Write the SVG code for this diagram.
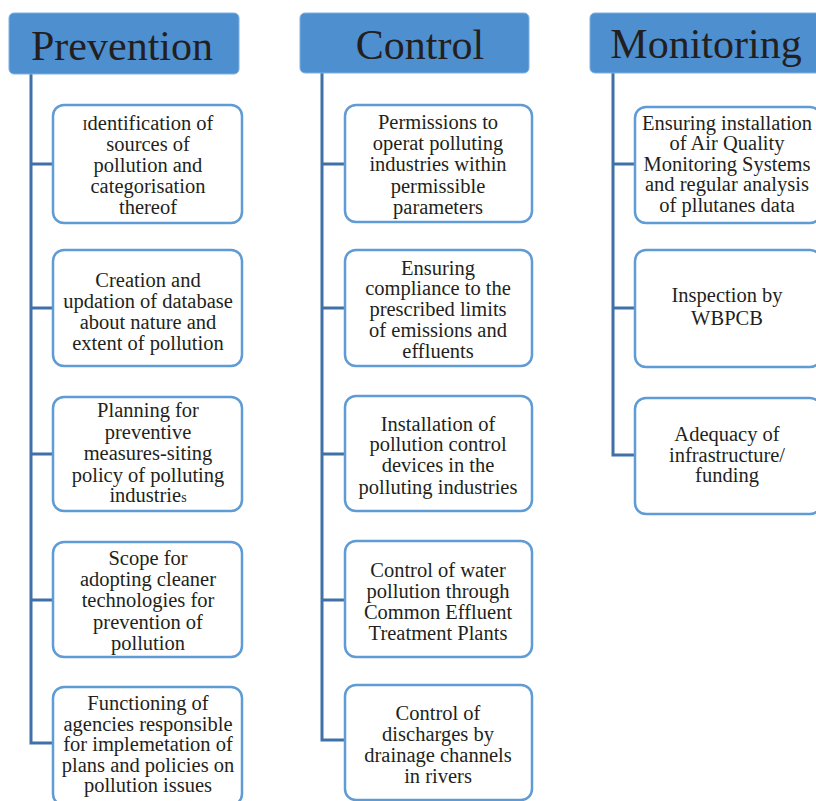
<svg xmlns="http://www.w3.org/2000/svg" width="816" height="801" viewBox="0 0 816 801">
<style>
.hdr{fill:#4e8fd0;stroke:#7db0e0;stroke-width:1}
.htx{font-family:'Liberation Serif','DejaVu Serif',serif;font-size:42px;fill:#231f20;text-anchor:middle}
.box{fill:#ffffff;stroke:#5f9bd4;stroke-width:2.5}
.tx{font-family:'Liberation Serif','DejaVu Serif',serif;font-size:20.5px;fill:#231f20;text-anchor:middle}
.ln{fill:none;stroke:#3f71a8;stroke-width:3}
</style>
<rect width="816" height="801" fill="#ffffff"/>
<g id="connectors">
<path class="ln" d="M31,74 V743 H53 M31,164 H53 M31,308 H53 M31,454 H53 M31,600 H53"/>
<path class="ln" d="M322,73 V740 H345 M322,164 H345 M322,308 H345 M322,454 H345 M322,600 H345"/>
<path class="ln" d="M613,73 V455 H635 M613,164 H635 M613,308 H635"/>
</g>
<g id="prevention">
<rect class="hdr" x="9" y="13" width="230" height="61" rx="5"/>
<text class="htx" x="122" y="60">Prevention</text>
</g>
<g id="control">
<rect class="hdr" x="300" y="13" width="229" height="60" rx="5"/>
<text class="htx" x="420" y="59">Control</text>
</g>
<g id="monitoring">
<rect class="hdr" x="590" y="13" width="234" height="60" rx="5"/>
<text class="htx" x="706" y="58">Monitoring</text>
</g>
<g id="p1">
<rect class="box" x="53" y="105" width="189" height="118" rx="11"/>
<text class="tx"><tspan x="148" y="130"><tspan font-size="15">I</tspan>dentification of</tspan><tspan x="148" y="151">sources of</tspan><tspan x="148" y="172">pollution and</tspan><tspan x="148" y="193">categorisation</tspan><tspan x="148" y="214">thereof</tspan></text>
</g>
<g id="p2">
<rect class="box" x="53" y="250" width="189" height="116" rx="11"/>
<text class="tx"><tspan x="148" y="287">Creation and</tspan><tspan x="148" y="308">updation of database</tspan><tspan x="148" y="329">about nature and</tspan><tspan x="148" y="350">extent of pollution</tspan></text>
</g>
<g id="p3">
<rect class="box" x="53" y="397" width="189" height="114" rx="11"/>
<text class="tx"><tspan x="148" y="417">Planning for</tspan><tspan x="148" y="439">preventive</tspan><tspan x="148" y="460">measures-siting</tspan><tspan x="148" y="482">policy of polluting</tspan><tspan x="148" y="502">industrie<tspan font-size="14">s</tspan></tspan></text>
</g>
<g id="p4">
<rect class="box" x="53" y="542" width="189" height="115" rx="11"/>
<text class="tx"><tspan x="148" y="565">Scope for</tspan><tspan x="148" y="586">adopting cleaner</tspan><tspan x="148" y="607">technologies for</tspan><tspan x="148" y="629">prevention of</tspan><tspan x="148" y="650">pollution</tspan></text>
</g>
<g id="p5">
<rect class="box" x="53" y="687" width="189" height="118" rx="11"/>
<text class="tx"><tspan x="148" y="710">Functioning of</tspan><tspan x="148" y="731">agencies responsible</tspan><tspan x="148" y="751">for implemetation of</tspan><tspan x="148" y="772">plans and policies on</tspan><tspan x="148" y="792">pollution issues</tspan></text>
</g>
<g id="c1">
<rect class="box" x="345" y="105" width="187" height="117" rx="11"/>
<text class="tx"><tspan x="438" y="129">Permissions to</tspan><tspan x="438" y="150">operat polluting</tspan><tspan x="438" y="171">industries within</tspan><tspan x="438" y="193">permissible</tspan><tspan x="438" y="214">parameters</tspan></text>
</g>
<g id="c2">
<rect class="box" x="345" y="250" width="187" height="116" rx="11"/>
<text class="tx"><tspan x="438" y="275">Ensuring</tspan><tspan x="438" y="295">compliance to the</tspan><tspan x="438" y="316">prescribed limits</tspan><tspan x="438" y="337">of emissions and</tspan><tspan x="438" y="358">effluents</tspan></text>
</g>
<g id="c3">
<rect class="box" x="345" y="396" width="187" height="115" rx="11"/>
<text class="tx"><tspan x="438" y="431">Installation of</tspan><tspan x="438" y="451">pollution control</tspan><tspan x="438" y="472">devices in the</tspan><tspan x="438" y="494">polluting industries</tspan></text>
</g>
<g id="c4">
<rect class="box" x="345" y="541" width="187" height="116" rx="11"/>
<text class="tx"><tspan x="438" y="577">Control of water</tspan><tspan x="438" y="598">pollution through</tspan><tspan x="438" y="619">Common Effluent</tspan><tspan x="438" y="640">Treatment Plants</tspan></text>
</g>
<g id="c5">
<rect class="box" x="345" y="685" width="187" height="115" rx="11"/>
<text class="tx"><tspan x="438" y="720">Control of</tspan><tspan x="438" y="741">discharges by</tspan><tspan x="438" y="762">drainage channels</tspan><tspan x="438" y="783">in rivers</tspan></text>
</g>
<g id="m1">
<rect class="box" x="635" y="107" width="186" height="116" rx="11"/>
<text class="tx"><tspan x="727" y="130">Ensuring installation</tspan><tspan x="727" y="150">of Air Quality</tspan><tspan x="727" y="171">Monitoring Systems</tspan><tspan x="727" y="191">and regular analysis</tspan><tspan x="727" y="212">of pllutanes data</tspan></text>
</g>
<g id="m2">
<rect class="box" x="635" y="250" width="186" height="117" rx="11"/>
<text class="tx"><tspan x="727" y="302">Inspection by</tspan><tspan x="727" y="325">WBPCB</tspan></text>
</g>
<g id="m3">
<rect class="box" x="635" y="398" width="186" height="116" rx="11"/>
<text class="tx"><tspan x="727" y="441">Adequacy of</tspan><tspan x="727" y="462">infrastructure/</tspan><tspan x="727" y="482">funding</tspan></text>
</g>
</svg>
